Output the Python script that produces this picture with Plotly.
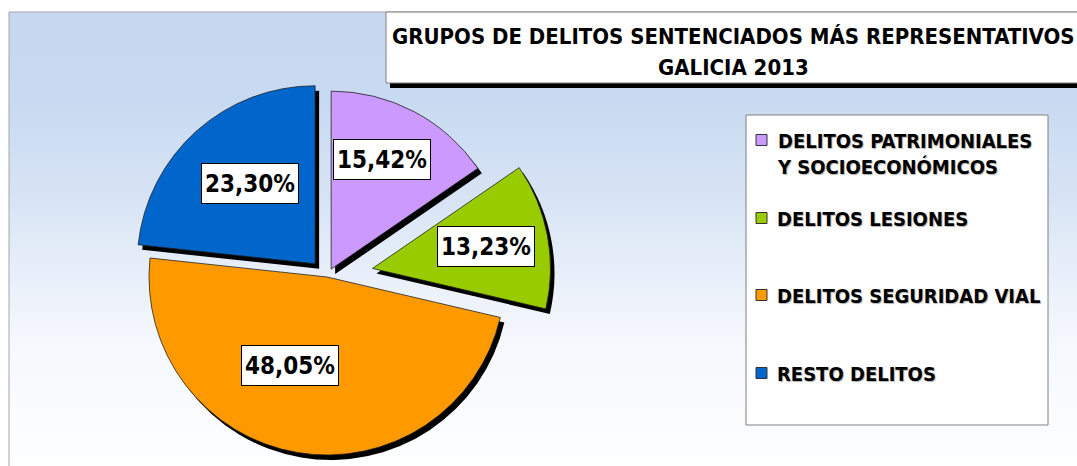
import math
import plotly.graph_objects as go

# ---- data ----
categories = ["DELITOS PATRIMONIALES<br>Y SOCIOECONÓMICOS", "DELITOS LESIONES",
              "DELITOS SEGURIDAD VIAL", "RESTO DELITOS"]
values = [15.42, 13.23, 48.05, 23.30]
colors = ["#CC99FF", "#99CC00", "#FF9900", "#0066CC"]
pulls = [0.05, 0.26, 0.0, 0.10]
title_lines = ["GRUPOS DE DELITOS SENTENCIADOS MÁS REPRESENTATIVOS", "GALICIA 2013"]

# ---- styling / layout geometry (pixels) ----
W, H = 1077, 466
CX, CY, R = 327, 277, 178
SHADOW = (4, 5)
label_r = [0.68, 0.65, 0.54, 0.58]      # label distance as fraction of radius
label_dang = [-3, 0, 13, 3]             # label angle tweak (degrees)
FONT = "Liberation Sans Narrow, Arial Narrow, DejaVu Sans Condensed, sans-serif"


def px(x):
    return x / W


def py(y):
    return 1 - y / H


total = sum(values)
cum = 0
mids = []
for v in values:
    mids.append((cum + v / 2) / total * 2 * math.pi)
    cum += v

fig = go.Figure()


def slice_trace(i, dx, dy, color, line_w):
    ang = mids[i]
    ox = pulls[i] * R * math.sin(ang) + dx
    oy = -pulls[i] * R * math.cos(ang) + dy
    cx, cy = CX + ox, CY + oy
    cols = ["rgba(0,0,0,0)"] * len(values)
    cols[i] = color
    lw = [0] * len(values)
    lw[i] = line_w
    return go.Pie(
        values=values, labels=[c.replace("<br>", " ") for c in categories],
        sort=False, direction="clockwise", rotation=0,
        marker=dict(colors=cols, line=dict(color="#222222", width=lw)),
        textinfo="none", hoverinfo="skip", showlegend=False,
        domain=dict(x=[px(cx - R), px(cx + R)], y=[py(cy + R), py(cy - R)]),
    )


for i in range(len(values)):
    fig.add_trace(slice_trace(i, SHADOW[0], SHADOW[1], "#000000", 0))
for i in range(len(values)):
    fig.add_trace(slice_trace(i, 0, 0, colors[i], 0.8))

shapes = []
annotations = []

# background gradient
stops = [(12, (198, 217, 240)), (100, (200, 218, 241)), (200, (216, 228, 245)),
         (280, (234, 240, 250)), (350, (246, 249, 253)), (466, (253, 254, 255))]


def grad(y):
    for (y0, c0), (y1, c1) in zip(stops[:-1], stops[1:]):
        if y0 <= y <= y1:
            t = (y - y0) / (y1 - y0)
            return tuple(round(a + (b - a) * t) for a, b in zip(c0, c1))
    return stops[-1][1]


y = 12
step = 4
while y < H:
    c = grad(y + step / 2)
    shapes.append(dict(type="rect", xref="paper", yref="paper", layer="below",
                       x0=px(9), x1=px(W + 5), y0=py(y + step + 0.5), y1=py(y),
                       fillcolor="rgb(%d,%d,%d)" % c, line=dict(width=0)))
    y += step
shapes.append(dict(type="rect", xref="paper", yref="paper", layer="below",
                   x0=px(9), x1=px(W + 20), y0=py(H + 20), y1=py(12),
                   fillcolor="rgba(0,0,0,0)", line=dict(color="#A6A6A6", width=1)))

# title box with shadow
shapes.append(dict(type="rect", xref="paper", yref="paper", layer="above",
                   x0=px(386 + 4), x1=px(W + 20), y0=py(83 + 5), y1=py(12 + 5),
                   fillcolor="#000000", line=dict(width=0)))
shapes.append(dict(type="rect", xref="paper", yref="paper", layer="above",
                   x0=px(386), x1=px(W + 20), y0=py(83), y1=py(12),
                   fillcolor="#FFFFFF", line=dict(color="#7F7F7F", width=1)))
for t, yy in zip(title_lines, [37, 67]):
    annotations.append(dict(xref="paper", yref="paper", x=px(733), y=py(yy),
                            xanchor="center", yanchor="middle", showarrow=False,
                            text="<b>%s</b>" % t,
                            font=dict(family=FONT, size=22, color="#000000")))

# legend box
shapes.append(dict(type="rect", xref="paper", yref="paper", layer="above",
                   x0=px(746), x1=px(1048), y0=py(425), y1=py(115),
                   fillcolor="#FFFFFF", line=dict(color="#808080", width=1)))
leg_y = [140, 218, 295, 373]
for i, cat in enumerate(categories):
    ym = leg_y[i]
    shapes.append(dict(type="rect", xref="paper", yref="paper", layer="above",
                       x0=px(756), x1=px(767), y0=py(ym + 5.5), y1=py(ym - 5.5),
                       fillcolor=colors[i], line=dict(color="#333333", width=1)))
    annotations.append(dict(xref="paper", yref="paper", x=px(775), y=py(ym - 13),
                            xanchor="left", yanchor="top", align="left", showarrow=False,
                            text="<b>%s</b>" % cat,
                            font=dict(family=FONT, size=20, color="#000000",
                                      shadow="1px 1px 1px rgba(0,0,0,0.3)")))

# data labels (boxes), positioned from slice angles
for i, v in enumerate(values):
    ang = mids[i]
    cx = CX + pulls[i] * R * math.sin(ang)
    cy = CY - pulls[i] * R * math.cos(ang)
    la = ang + math.radians(label_dang[i])
    lx = cx + label_r[i] * R * math.sin(la)
    ly = cy - label_r[i] * R * math.cos(la)
    annotations.append(dict(xref="paper", yref="paper", x=px(lx), y=py(ly),
                            xanchor="center", yanchor="middle", showarrow=False,
                            text="<b>%s%%</b>" % ("%.2f" % v).replace(".", ","),
                            font=dict(family=FONT, size=24, color="#000000"),
                            bgcolor="#FFFFFF", bordercolor="#000000", borderwidth=1,
                            borderpad=3, width=90, height=33))

fig.update_layout(width=W, height=H, margin=dict(l=0, r=0, t=0, b=0),
                  paper_bgcolor="#FFFFFF", plot_bgcolor="#FFFFFF",
                  shapes=shapes, annotations=annotations, showlegend=False)
fig.write_html("out.html", config={"displayModeBar": False},
               post_script="document.body.style.margin='0';"
                           "document.body.style.overflow='hidden';")
